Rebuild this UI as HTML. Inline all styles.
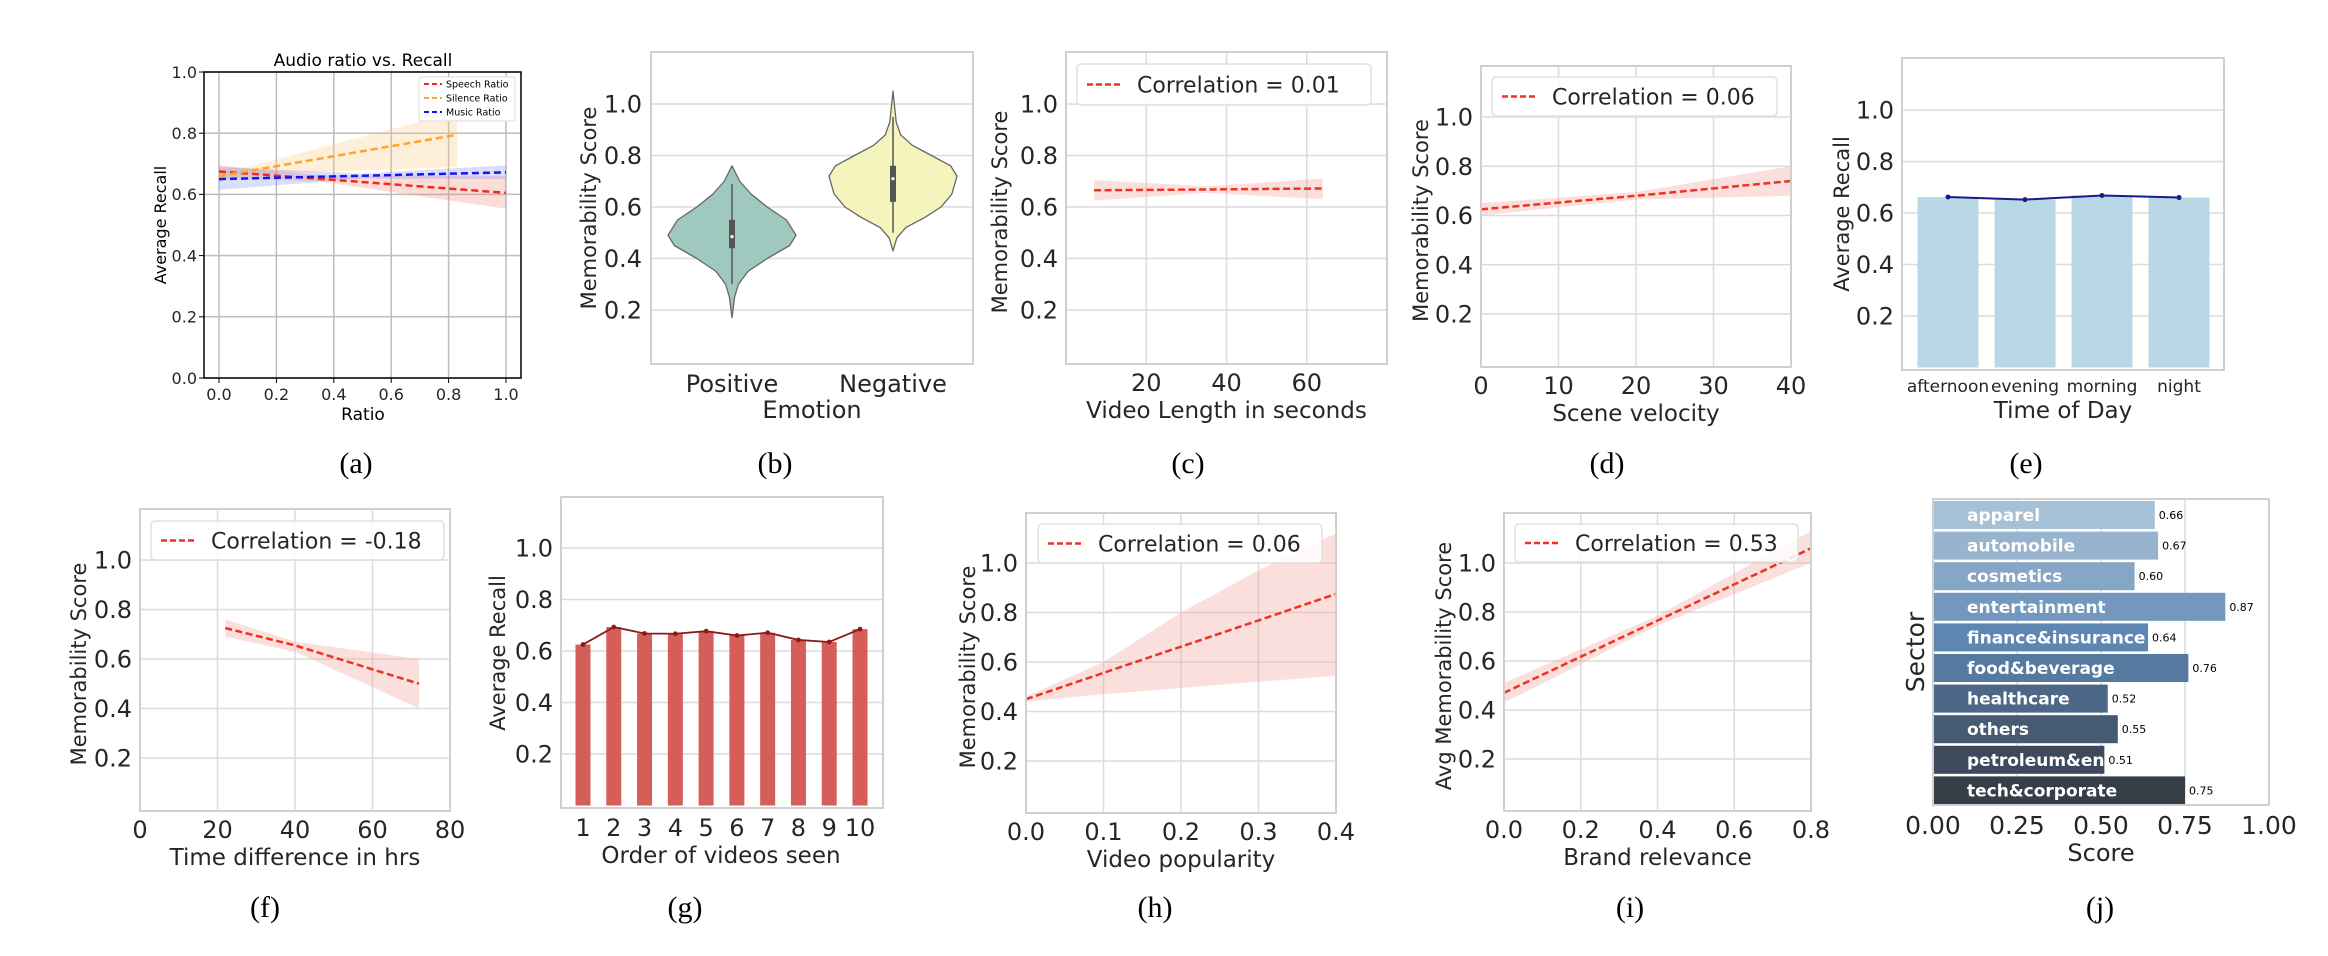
<!DOCTYPE html>
<html><head><meta charset="utf-8"><style>
html,body{margin:0;padding:0;background:#fff;}
svg{display:block;font-family:"DejaVu Sans","Liberation Sans",sans-serif;}
</style></head><body>
<svg id="fig" width="2328" height="956" viewBox="0 0 2328 956" xmlns="http://www.w3.org/2000/svg"></svg>
<script>
// ---------- data ----------
const aSpeechX=[0,0.35,1], aSpeechY=[0.675,0.651,0.605], aSpeechLo=[0.655,0.642,0.553], aSpeechHi=[0.695,0.662,0.66];
const aSilenceX=[0,0.1,0.83], aSilenceY=[0.66,0.676,0.795], aSilenceLo=[0.64,0.665,0.69], aSilenceHi=[0.68,0.69,0.87];
const aMusicX=[0,0.5,1], aMusicY=[0.65,0.661,0.672], aMusicLo=[0.615,0.652,0.65], aMusicHi=[0.69,0.668,0.695];
const bCategories=['Positive','Negative'];
const bPosY=[0.17,0.25,0.3,0.35,0.4,0.45,0.49,0.55,0.6,0.65,0.7,0.74,0.76];
const bPosW=[0,0.04,0.1,0.25,0.55,0.9,1.0,0.85,0.55,0.3,0.12,0.04,0];
const bNegY=[0.43,0.48,0.52,0.56,0.6,0.65,0.72,0.76,0.8,0.84,0.88,0.93,1.0,1.05];
const bNegW=[0,0.06,0.2,0.5,0.75,0.92,1.0,0.9,0.6,0.3,0.12,0.05,0.02,0];
const bBox=[[0.3,0.44,0.485,0.55,0.69],[0.5,0.62,0.71,0.76,0.95]];
const cX=[7,35,64], cY=[0.665,0.668,0.672], cLo=[0.625,0.655,0.63], cHi=[0.705,0.68,0.71];
const dX=[0,20,40], dY=[0.625,0.68,0.74], dLo=[0.6,0.665,0.68], dHi=[0.65,0.695,0.8];
const eCategories=['afternoon','evening','morning','night'], eValues=[0.662,0.652,0.668,0.66];
const fX=[22,40,72], fY=[0.725,0.655,0.5], fLo=[0.69,0.63,0.4], fHi=[0.76,0.67,0.6];
const gCategories=[1,2,3,4,5,6,7,8,9,10], gValues=[0.625,0.693,0.668,0.667,0.677,0.66,0.671,0.643,0.635,0.685];
const hX=[0,0.1,0.2,0.3,0.4], hY=[0.45,0.556,0.662,0.768,0.875], hLo=[0.44,0.47,0.495,0.52,0.545], hHi=[0.46,0.6,0.8,0.97,1.12];
const iX=[0,0.4,0.8], iY=[0.47,0.765,1.06], iLo=[0.43,0.745,1.0], iHi=[0.51,0.785,1.13];
const jSectors=['apparel','automobile','cosmetics','entertainment','finance&insurance','food&beverage','healthcare','others','petroleum&energy','tech&corporate'];
const jValues=[0.66,0.67,0.60,0.87,0.64,0.76,0.52,0.55,0.51,0.75];
const jLabels=['0.66','0.67','0.60','0.87','0.64','0.76','0.52','0.55','0.51','0.75'];
const jColors=['#a6c0d5','#97b3cd','#86a6c5','#7397bd','#5d87b1','#56799f','#4d6886','#465a72','#3d4a5b','#363e48'];
const tick02=[0.2,0.4,0.6,0.8,1.0], tickLbl02=['0.2','0.4','0.6','0.8','1.0'];

// ---------- helpers ----------
const NS='http://www.w3.org/2000/svg';
const svg=document.getElementById('fig');
function lin(d0,d1,r0,r1){return v=>r0+(v-d0)*(r1-r0)/(d1-d0);}
function mk(tag,attrs,name,parent,txt){
  const e=document.createElementNS(NS,tag);
  for(const k in attrs) e.setAttribute(k,attrs[k]);
  
  
  if(txt!==undefined) e.textContent=txt;
  (parent||svg).appendChild(e);
  return e;
}
function text(x,y,s,size,name,opt){
  opt=opt||{};
  const a={x:x,y:y,'font-size':size,fill:opt.fill||'#262626','text-anchor':opt.anchor||'middle'};
  if(opt.weight) a['font-weight']=opt.weight;
  if(opt.family) a['font-family']=opt.family;
  if(opt.rot){a.transform='rotate(-90 '+x+' '+y+')';}
  return mk('text',a,name,opt.parent,s);
}
let clipN=0;
function frame(x0,y0,x1,y1,name,stroke,sw){
  const g=mk('g',{},name);
  const id='clip'+(clipN++);
  const cp=mk('clipPath',{id:id},name+'-clip',g);
  mk('rect',{x:x0,y:y0,width:x1-x0,height:y1-y0},name+'-clip-rect',cp);
  g._clip='url(#'+id+')';
  g._box=[x0,y0,x1,y1,stroke||'#d0d0d0',sw||2];
  return g;
}
function border(g,name){
  const b=g._box;
  mk('rect',{x:b[0],y:b[1],width:b[2]-b[0],height:b[3]-b[1],fill:'none',stroke:b[4],'stroke-width':b[5]},name,g);
}
function hgrid(g,ys,yS,x0,x1,col,name){ys.forEach(v=>mk('line',{x1:x0,x2:x1,y1:yS(v),y2:yS(v),stroke:col||'#dcdcdc','stroke-width':1.5},name,g));}
function vgrid(g,xs,xS,y0,y1,col,name){xs.forEach(v=>mk('line',{x1:xS(v),x2:xS(v),y1:y0,y2:y1,stroke:col||'#dcdcdc','stroke-width':1.5},name,g));}
function yticks(g,vals,lbls,yS,x,size,name){vals.forEach((v,i)=>text(x,yS(v)+size*0.36,lbls[i],size,name,{anchor:'end',parent:g}));}
function xticks(g,vals,lbls,xS,y,size,name){vals.forEach((v,i)=>text(xS(v),y,lbls[i],size,name,{parent:g}));}
function band(g,X,Lo,Hi,xS,yS,col,op,name){
  let d='M'+X.map((x,i)=>xS(x)+','+yS(Hi[i])).join(' L');
  for(let i=X.length-1;i>=0;i--) d+=' L'+xS(X[i])+','+yS(Lo[i]);
  mk('path',{d:d+'Z',fill:col,'fill-opacity':op,'clip-path':g._clip},name,g);
}
function dline(g,X,Y,xS,yS,col,w,name,dash){
  mk('polyline',{points:X.map((x,i)=>xS(x)+','+yS(Y[i])).join(' '),fill:'none',stroke:col,'stroke-width':w,'stroke-dasharray':dash||'8,4','clip-path':g._clip},name,g);
}
function legendBox(g,x0,y0,x1,y1,label,size,name){
  mk('rect',{x:x0,y:y0,width:x1-x0,height:y1-y0,rx:4,fill:'#fff','fill-opacity':0.85,stroke:'#e0e0e0','stroke-width':1.5},name+'-box',g);
  const my=(y0+y1)/2;
  mk('line',{x1:x0+10,x2:x0+43,y1:my,y2:my,stroke:'#ee3322','stroke-width':2.5,'stroke-dasharray':'6,3'},name+'-swatch',g);
  text(x0+60,my+size*0.36,label,size,name+'-label',{anchor:'start',parent:g});
}
function caption(x,y,s,name){text(x,y,s,30,name,{family:'"Liberation Serif",serif',fill:'#000'});}

// ---------- (a) ----------
(function(){
  const xS=lin(0,1,219,506), yS=lin(0,1,378,72);
  const g=frame(204,72,521,378,'panel-a','#000',1.5);
  const t=[0,0.2,0.4,0.6,0.8,1.0], tl=['0.0','0.2','0.4','0.6','0.8','1.0'];
  vgrid(g,t,xS,72,378,'#bdbdbd','a-vgrid');
  hgrid(g,t,yS,204,521,'#bdbdbd','a-hgrid');
  band(g,aSpeechX,aSpeechLo,aSpeechHi,xS,yS,'#f08070',0.28,'a-speech-band');
  band(g,aSilenceX,aSilenceLo,aSilenceHi,xS,yS,'#fbc77a',0.28,'a-silence-band');
  band(g,aMusicX,aMusicLo,aMusicHi,xS,yS,'#6f7cf5',0.25,'a-music-band');
  dline(g,aSpeechX,aSpeechY,xS,yS,'#ee2b22',2.5,'a-speech-line','7,4');
  dline(g,aSilenceX,aSilenceY,xS,yS,'#ffa527',2.5,'a-silence-line','7,4');
  dline(g,aMusicX,aMusicY,xS,yS,'#1515f0',2.5,'a-music-line','7,4');
  border(g,'a-frame');
  t.forEach(v=>{mk('line',{x1:xS(v),x2:xS(v),y1:378,y2:383,stroke:'#000'},'a-xtick',g);mk('line',{x1:199,x2:204,y1:yS(v),y2:yS(v),stroke:'#000'},'a-ytick',g);});
  yticks(g,t,tl,yS,197,16,'a-ytick-label');
  xticks(g,t,tl,xS,400,16,'a-xtick-label');
  text(363,66,'Audio ratio vs. Recall',17,'a-title',{fill:'#000',parent:g});
  text(363,420,'Ratio',17,'a-xlabel',{fill:'#000',parent:g});
  text(166,225,'Average Recall',16,'a-ylabel',{fill:'#000',rot:true,parent:g});
  mk('rect',{x:419,y:77,width:96,height:44,rx:2,fill:'#fff',stroke:'#ddd'},'a-legend-box',g);
  [['Speech Ratio','#ee2b22'],['Silence Ratio','#ffa527'],['Music Ratio','#1515f0']].forEach((e,i)=>{
    const y=84+i*14;
    mk('line',{x1:424,x2:442,y1:y,y2:y,stroke:e[1],'stroke-width':2,'stroke-dasharray':'5,3'},'a-legend-swatch',g);
    text(446,y+3.5,e[0],9.5,'a-legend-label',{anchor:'start',fill:'#000',parent:g});
  });
  caption(356,473,'(a)','a-caption');
})();

// ---------- (b) ----------
(function(){
  const yS=lin(0.2,1,310,104), cx=[732,893], half=64;
  const g=frame(651,52,973,364,'panel-b');
  hgrid(g,tick02,yS,651,973,null,'b-hgrid');
  border(g,'b-frame');
  const vs=[[bPosY,bPosW,'#9fc8be'],[bNegY,bNegW,'#f6f4bd']];
  vs.forEach((v,k)=>{
    const Y=v[0],W=v[1];
    let d='M'+Y.map((y,i)=>(cx[k]+W[i]*half)+','+yS(y)).join(' L');
    for(let i=Y.length-1;i>=0;i--) d+=' L'+(cx[k]-W[i]*half)+','+yS(Y[i]);
    mk('path',{d:d+'Z',fill:v[2],stroke:'#666','stroke-width':1.3,'stroke-linejoin':'round'},'b-violin-'+bCategories[k].toLowerCase(),g);
    const b=bBox[k];
    mk('line',{x1:cx[k],x2:cx[k],y1:yS(b[0]),y2:yS(b[4]),stroke:'#555','stroke-width':1.5},'b-whisker',g);
    mk('rect',{x:cx[k]-3,y:yS(b[3]),width:6,height:yS(b[1])-yS(b[3]),fill:'#555'},'b-box',g);
    mk('circle',{cx:cx[k],cy:yS(b[2]),r:1.6,fill:'#fff'},'b-median',g);
  });
  yticks(g,tick02,tickLbl02,yS,642,24,'b-ytick-label');
  bCategories.forEach((c,i)=>text(cx[i],392,c,24,'b-xtick-label',{parent:g}));
  text(812,418,'Emotion',24,'b-xlabel',{parent:g});
  text(596,208,'Memorability Score',21,'b-ylabel',{rot:true,parent:g});
  caption(775,473,'(b)','b-caption');
})();

// generic regression panel
function regPanel(p){
  const g=frame(p.x0,p.y0,p.x1,p.y1,'panel-'+p.id);
  hgrid(g,tick02,p.yS,p.x0,p.x1,null,p.id+'-hgrid');
  vgrid(g,p.vg,p.xS,p.y0,p.y1,null,p.id+'-vgrid');
  band(g,p.X,p.Lo,p.Hi,p.xS,p.yS,'#f4a49a',0.35,p.id+'-ci-band');
  dline(g,p.X,p.Y,p.xS,p.yS,'#ee3322',2.5,p.id+'-regression-line','7,3.5');
  border(g,p.id+'-frame');
  legendBox(g,p.lg[0],p.lg[1],p.lg[2],p.lg[3],p.leg,22,p.id+'-legend');
  yticks(g,tick02,tickLbl02,p.yS,p.x0-8,24,p.id+'-ytick-label');
  xticks(g,p.xt,p.xtl,p.xS,p.y1+27,24,p.id+'-xtick-label');
  text((p.x0+p.x1)/2,p.y1+54,p.xlab,23,p.id+'-xlabel',{parent:g});
  text(p.ylx,(p.y0+p.y1)/2+4,p.ylab,21,p.id+'-ylabel',{rot:true,parent:g});
  caption(p.cap[0],p.cap[1],'('+p.id+')',p.id+'-caption');
}
regPanel({id:'c',x0:1066,y0:52,x1:1387,y1:364,xS:lin(0,80,1066,1387),yS:lin(0.2,1,310,104),vg:[20,40,60],
  X:cX,Y:cY,Lo:cLo,Hi:cHi,lg:[1077,64,1371,105],leg:'Correlation = 0.01',xt:[20,40,60],xtl:['20','40','60'],
  xlab:'Video Length in seconds',ylab:'Memorability Score',ylx:1007,cap:[1188,473]});
regPanel({id:'d',x0:1481,y0:66,x1:1791,y1:367,xS:lin(0,40,1481,1791),yS:lin(0.2,1,314,117),vg:[10,20,30],
  X:dX,Y:dY,Lo:dLo,Hi:dHi,lg:[1492,77,1777,116],leg:'Correlation = 0.06',xt:[0,10,20,30,40],xtl:['0','10','20','30','40'],
  xlab:'Scene velocity',ylab:'Memorability Score',ylx:1428,cap:[1607,473]});
regPanel({id:'f',x0:140,y0:509,x1:450,y1:811,xS:lin(0,80,140,450),yS:lin(0.2,1,758,560),vg:[20,40,60],
  X:fX,Y:fY,Lo:fLo,Hi:fHi,lg:[151,521,444,560],leg:'Correlation = -0.18',xt:[0,20,40,60,80],xtl:['0','20','40','60','80'],
  xlab:'Time difference in hrs',ylab:'Memorability Score',ylx:86,cap:[265,917]});
regPanel({id:'h',x0:1026,y0:513,x1:1336,y1:813,xS:lin(0,0.4,1026,1336),yS:lin(0.2,1,761,563),vg:[0.1,0.2,0.3],
  X:hX,Y:hY,Lo:hLo,Hi:hHi,lg:[1038,524,1322,563],leg:'Correlation = 0.06',xt:[0,0.1,0.2,0.3,0.4],xtl:['0.0','0.1','0.2','0.3','0.4'],
  xlab:'Video popularity',ylab:'Memorability Score',ylx:975,cap:[1155,917]});
regPanel({id:'i',x0:1504,y0:513,x1:1811,y1:811,xS:lin(0,0.8,1504,1811),yS:lin(0.2,1,759,563),vg:[0.2,0.4,0.6],
  X:iX,Y:iY,Lo:iLo,Hi:iHi,lg:[1515,524,1798,562],leg:'Correlation = 0.53',xt:[0,0.2,0.4,0.6,0.8],xtl:['0.0','0.2','0.4','0.6','0.8'],
  xlab:'Brand relevance',ylab:'Avg Memorability Score',ylx:1451,cap:[1630,917]});

// ---------- (e) ----------
(function(){
  const yS=lin(0.2,1,316,110), xS=i=>1948+i*77;
  const g=frame(1902,58,2224,370,'panel-e');
  hgrid(g,tick02,yS,1902,2224,null,'e-hgrid');
  eValues.forEach((v,i)=>mk('rect',{x:xS(i)-30.5,y:yS(v),width:61,height:yS(0)-yS(v),fill:'#b8d8e6'},'e-bar-'+eCategories[i],g));
  mk('polyline',{points:eValues.map((v,i)=>xS(i)+','+yS(v)).join(' '),fill:'none',stroke:'#1a1a8a','stroke-width':2},'e-line',g);
  eValues.forEach((v,i)=>mk('circle',{cx:xS(i),cy:yS(v),r:2.5,fill:'#1a1a8a'},'e-point',g));
  border(g,'e-frame');
  yticks(g,tick02,tickLbl02,yS,1894,24,'e-ytick-label');
  eCategories.forEach((c,i)=>text(xS(i),392,c,17,'e-xtick-label',{parent:g}));
  text(2063,418,'Time of Day',23,'e-xlabel',{parent:g});
  text(1849,214,'Average Recall',21,'e-ylabel',{rot:true,parent:g});
  caption(2026,473,'(e)','e-caption');
})();

// ---------- (g) ----------
(function(){
  const yS=lin(0.2,1,754,548), xS=lin(1,10,583,860);
  const g=frame(561,497,883,808,'panel-g');
  hgrid(g,tick02,yS,561,883,null,'g-hgrid');
  gValues.forEach((v,i)=>mk('rect',{x:xS(gCategories[i])-7.5,y:yS(v),width:15,height:yS(0)-yS(v),fill:'#d55f58'},'g-bar-'+gCategories[i],g));
  mk('polyline',{points:gValues.map((v,i)=>xS(gCategories[i])+','+yS(v)).join(' '),fill:'none',stroke:'#8b1a1a','stroke-width':1.8},'g-line',g);
  gValues.forEach((v,i)=>mk('circle',{cx:xS(gCategories[i]),cy:yS(v),r:2.4,fill:'#8b1a1a'},'g-point',g));
  border(g,'g-frame');
  yticks(g,tick02,tickLbl02,yS,553,24,'g-ytick-label');
  xticks(g,gCategories,gCategories.map(String),xS,836,24,'g-xtick-label');
  text(721,863,'Order of videos seen',23,'g-xlabel',{parent:g});
  text(505,653,'Average Recall',21,'g-ylabel',{rot:true,parent:g});
  caption(685,917,'(g)','g-caption');
})();

// ---------- (j) ----------
(function(){
  const xS=lin(0,1,1933,2269), rowY=i=>501+i*30.6;
  const g=frame(1933,499,2269,805,'panel-j');
  vgrid(g,[0.25,0.5,0.75],xS,499,805,null,'j-vgrid');
  jValues.forEach((v,i)=>{
    mk('rect',{x:xS(0),y:rowY(i),width:xS(v)-xS(0),height:28,fill:jColors[i]},'j-bar-'+jSectors[i].replace('&','-'),g);
    const cl=mk('clipPath',{id:'jc'+i},'j-bar-clip',g);
    mk('rect',{x:xS(0),y:rowY(i),width:xS(v)-xS(0),height:28},'j-bar-clip-rect',cl);
    const t=text(1967,rowY(i)+20,jSectors[i],17,'j-bar-label',{anchor:'start',fill:'#fff',weight:'bold',parent:g});
    t.setAttribute('clip-path','url(#jc'+i+')');
    text(xS(v)+4,rowY(i)+18,jLabels[i],11,'j-value-label',{anchor:'start',fill:'#000',parent:g});
  });
  border(g,'j-frame');
  xticks(g,[0,0.25,0.5,0.75,1],['0.00','0.25','0.50','0.75','1.00'],xS,834,25,'j-xtick-label');
  text(2101,861,'Score',24,'j-xlabel',{parent:g});
  text(1924,652,'Sector',25,'j-ylabel',{rot:true,parent:g});
  caption(2100,917,'(j)','j-caption');
})();
</script>
</body></html>
